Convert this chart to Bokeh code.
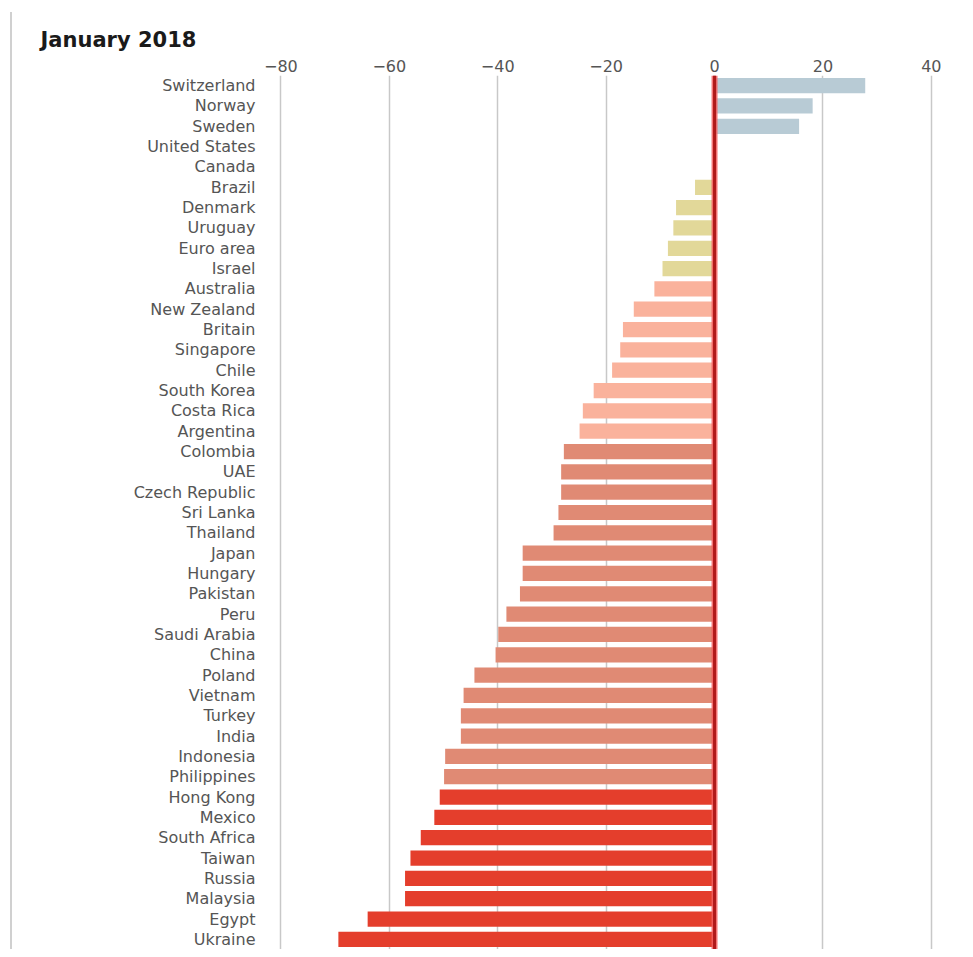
from bokeh.plotting import figure
from bokeh.models import FactorRange, Range1d, FixedTicker, Span, ColumnDataSource
from bokeh.embed import file_html
from bokeh.resources import INLINE

countries = [
    "Switzerland", "Norway", "Sweden", "United States", "Canada", "Brazil",
    "Denmark", "Uruguay", "Euro area", "Israel", "Australia", "New Zealand",
    "Britain", "Singapore", "Chile", "South Korea", "Costa Rica", "Argentina",
    "Colombia", "UAE", "Czech Republic", "Sri Lanka", "Thailand", "Japan",
    "Hungary", "Pakistan", "Peru", "Saudi Arabia", "China", "Poland",
    "Vietnam", "Turkey", "India", "Indonesia", "Philippines", "Hong Kong",
    "Mexico", "South Africa", "Taiwan", "Russia", "Malaysia", "Egypt", "Ukraine",
]
values = [
    27.8, 18.1, 15.6, 0.0, -0.3, -3.6,
    -7.1, -7.6, -8.6, -9.6, -11.1, -14.9,
    -16.9, -17.4, -18.9, -22.3, -24.3, -24.9,
    -27.8, -28.3, -28.3, -28.8, -29.7, -35.4,
    -35.4, -35.9, -38.4, -39.9, -40.4, -44.3,
    -46.3, -46.8, -46.8, -49.7, -49.9, -50.7,
    -51.7, -54.2, -56.1, -57.1, -57.1, -64.0, -69.4,
]
tick_values = [-80, -60, -40, -20, 0, 20, 40]
tick_labels = ["\u221280", "\u221260", "\u221240", "\u221220", "0", "20", "40"]


def bin_color(v):
    if v > 0:
        return "#b8cbd5"
    if v > -10:
        return "#e2d899"
    if v > -25:
        return "#fab29c"
    if v > -50:
        return "#e08a74"
    return "#e43e2c"


colors = [bin_color(v) for v in values]
src = ColumnDataSource(dict(country=countries, val=values, color=colors))

FONT = "DejaVu Sans"

p = figure(
    width=953, height=937,
    y_range=FactorRange(factors=list(reversed(countries))),
    x_range=Range1d(-81.0, 46.3),
    x_axis_location="above",
    output_backend="svg", toolbar_location=None,
    min_border_left=263, min_border_right=0, min_border_top=63, min_border_bottom=0,
)
p.styles = {"border-left": "2px solid #d0d0d0", "margin-left": "10px",
            "margin-top": "12px"}

p.hbar(y="country", left=0, right="val", height=0.75, color="color",
       line_color=None, source=src)

zero_glow = Span(location=0, dimension="height", line_color="#f26060",
                 line_width=6, line_alpha=0.85)
zero_line = Span(location=0, dimension="height", line_color="#b01a1a",
                 line_width=3)
p.add_layout(zero_glow)
p.add_layout(zero_line)

p.title.text = "January 2018"
p.title.text_font = FONT
p.title.text_font_style = "bold"
p.title.text_font_size = "21px"
p.title.text_color = "#1a1a1a"
p.title.align = "left"
p.title.offset = -235

p.outline_line_color = None
p.ygrid.visible = False
p.xgrid.ticker = FixedTicker(ticks=tick_values)
p.xgrid.grid_line_color = "#c8c8c8"
p.xgrid.grid_line_width = 1.5

xa = p.xaxis[0]
xa.ticker = FixedTicker(ticks=tick_values)
xa.major_label_overrides = {v: l for v, l in zip(tick_values, tick_labels)}
xa.axis_line_color = None
xa.major_tick_line_color = None
xa.minor_tick_line_color = None
xa.major_label_text_font = FONT
xa.major_label_text_font_size = "16px"
xa.major_label_text_color = "#555555"
xa.major_label_standoff = -2

ya = p.yaxis[0]
ya.axis_line_color = None
ya.major_tick_line_color = None
ya.minor_tick_line_color = None
ya.major_label_text_font = FONT
ya.major_label_text_font_size = "16px"
ya.major_label_text_color = "#555555"
ya.major_label_standoff = 14

open("out.html", "w").write(file_html(p, INLINE))
